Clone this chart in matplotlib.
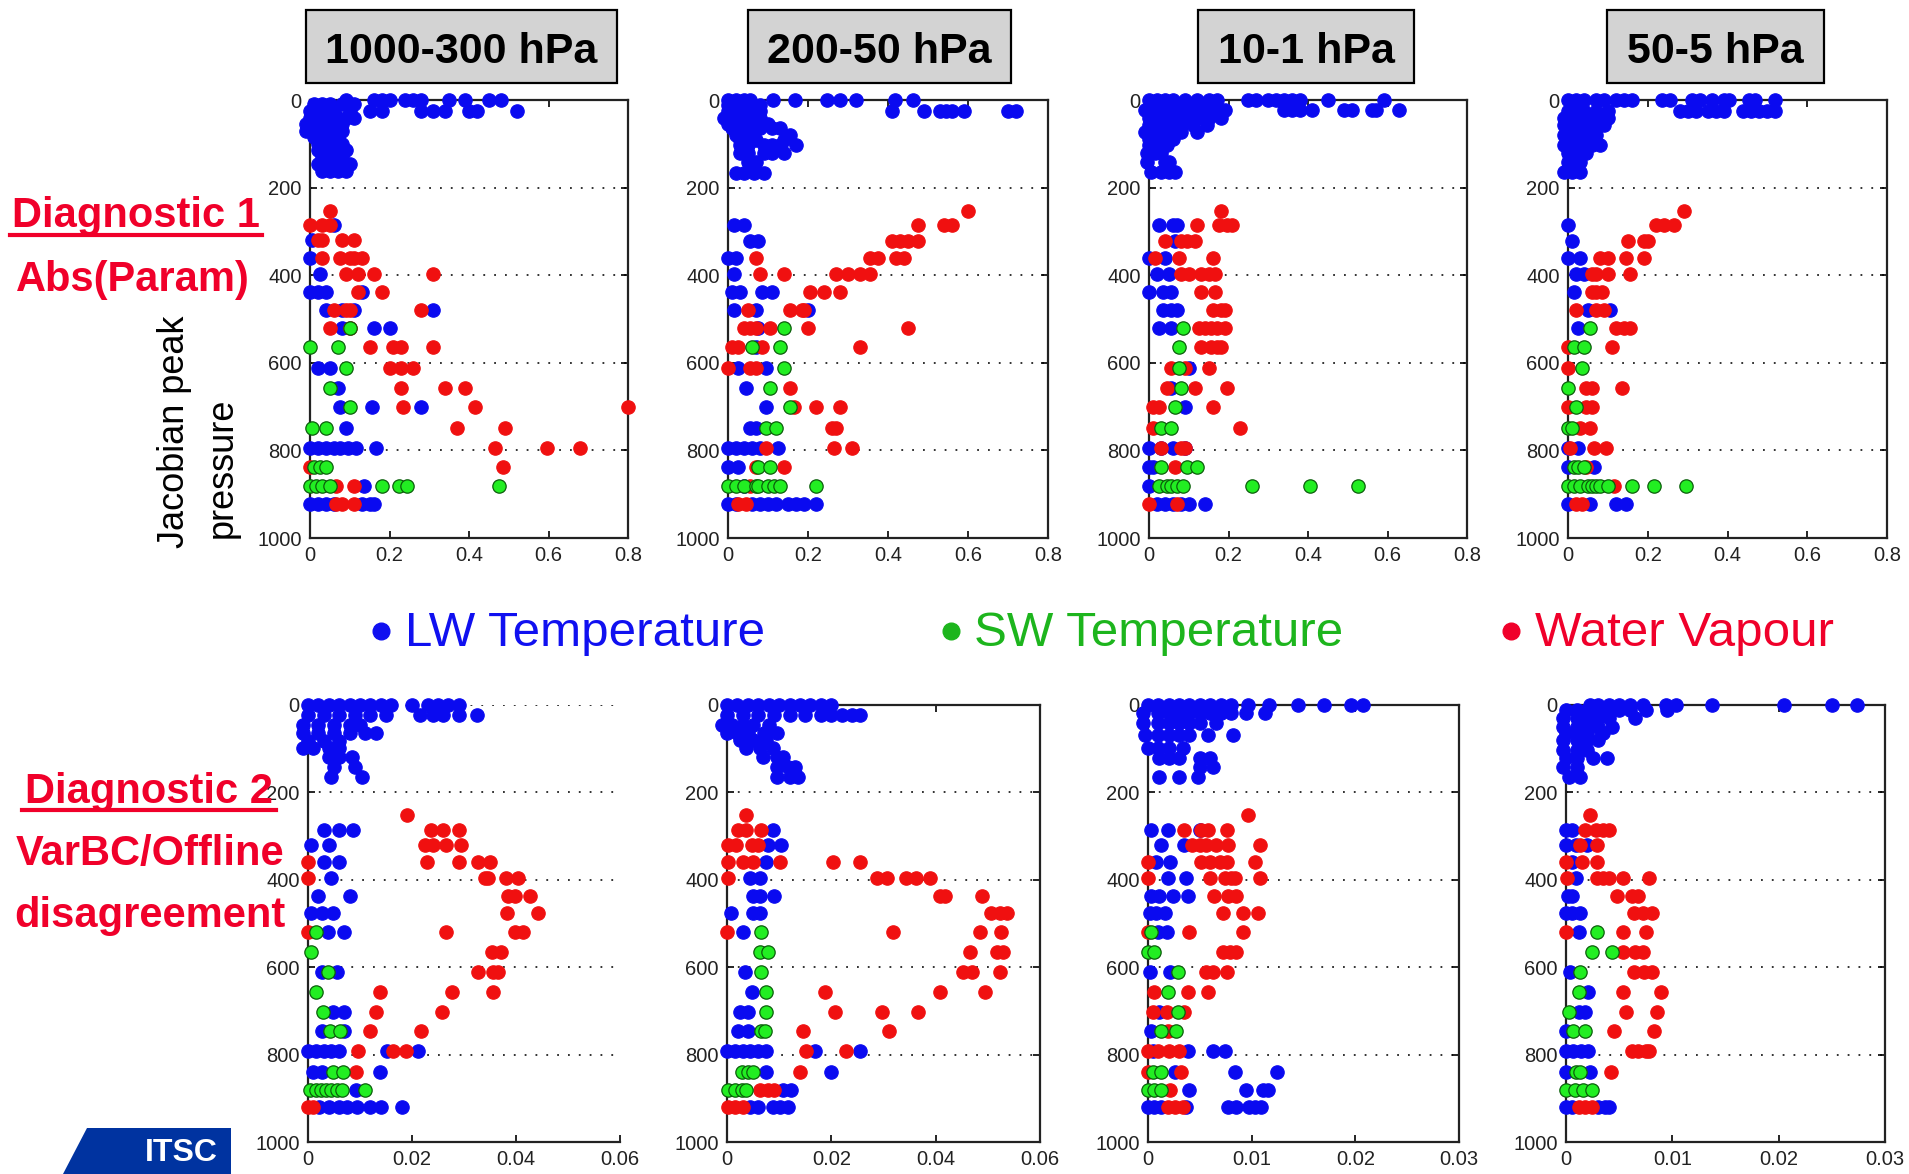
import numpy as np
import matplotlib
matplotlib.use('Agg')
import matplotlib.pyplot as plt
from matplotlib.patches import Rectangle, Polygon
from matplotlib.lines import Line2D

plt.rcParams['font.family'] = ['Liberation Sans', 'DejaVu Sans']

W, H = 1909, 1174

# ---- data: {Jacobian peak pressure (hPa): [values]} per panel / channel group ----
T1_LW = {0: [0.09, 0.16, 0.18, 0.20, 0.24, 0.26, 0.28, 0.35, 0.39, 0.45, 0.48],
         10: [0.01, 0.03, 0.05, 0.08, 0.11],
         25: [0.0, 0.03, 0.06, 0.10, 0.15, 0.18, 0.28, 0.31, 0.34, 0.40, 0.42, 0.52],
         40: [0.0, 0.02, 0.04, 0.07, 0.09, 0.11],
         55: [-0.01, 0.01, 0.03, 0.05, 0.08],
         70: [-0.01, 0.02, 0.04, 0.06, 0.08],
         85: [0.01, 0.03, 0.05, 0.07],
         100: [0.02, 0.04, 0.06, 0.08],
         115: [0.02, 0.04, 0.07, 0.09],
         130: [0.03, 0.05, 0.08],
         145: [0.02, 0.04, 0.07, 0.10],
         163: [0.03, 0.05, 0.07, 0.09],
         285: [0.06], 320: [0.005], 360: [0.0], 398: [0.025],
         438: [0.0, 0.02, 0.04, 0.13],
         479: [0.04, 0.08, 0.11, 0.31],
         520: [0.08, 0.16, 0.20],
         611: [0.02, 0.05], 657: [0.07],
         702: [0.075, 0.155, 0.28], 748: [0.09],
         794: [0.0, 0.02, 0.04, 0.06, 0.075, 0.095, 0.115, 0.165],
         881: [0.135],
         923: [0.0, 0.02, 0.04, 0.06, 0.13, 0.15, 0.16]}
T1_WV = {253: [0.05], 285: [0.0, 0.03, 0.05],
         320: [0.02, 0.03, 0.08, 0.11],
         360: [0.03, 0.075, 0.10, 0.11, 0.13],
         398: [0.09, 0.12, 0.16, 0.31],
         438: [0.12, 0.18], 479: [0.06, 0.09, 0.10, 0.28],
         520: [0.05, 0.10], 565: [0.15, 0.21, 0.23, 0.31],
         611: [0.20, 0.23, 0.26], 657: [0.23, 0.34, 0.39],
         702: [0.235, 0.415, 0.80], 748: [0.37, 0.49],
         794: [0.465, 0.595, 0.68], 839: [0.0, 0.485],
         881: [0.065, 0.11], 923: [0.065, 0.08, 0.11]}
T1_SW = {520: [0.10], 565: [0.0, 0.07], 611: [0.09], 657: [0.05], 702: [0.10],
         748: [0.005, 0.04], 839: [0.01, 0.025, 0.04],
         881: [0.0, 0.015, 0.03, 0.05, 0.18, 0.225, 0.245, 0.475]}

T2_LW = {0: [0.0, 0.02, 0.04, 0.055, 0.113, 0.167, 0.247, 0.28, 0.32, 0.417, 0.463],
         12: [0.0, 0.02, 0.04, 0.06, 0.08],
         25: [0.0, 0.03, 0.06, 0.08, 0.41, 0.49, 0.53, 0.545, 0.56, 0.59, 0.70, 0.72],
         42: [-0.01, 0.01, 0.03, 0.05, 0.07, 0.08],
         55: [0.0, 0.02, 0.04, 0.06, 0.08, 0.10],
         65: [0.01, 0.03, 0.05, 0.08, 0.11, 0.13],
         80: [0.02, 0.04, 0.06, 0.155],
         92: [0.03, 0.05, 0.07, 0.14],
         103: [0.03, 0.05, 0.09, 0.11, 0.13, 0.17],
         122: [0.03, 0.05, 0.09, 0.11, 0.14],
         141: [0.05, 0.07], 167: [0.02, 0.04, 0.065, 0.09],
         285: [0.015, 0.04], 321: [0.055, 0.075], 360: [0.0, 0.02], 398: [0.015],
         438: [0.01, 0.03, 0.085, 0.11], 479: [0.015, 0.07, 0.20],
         520: [0.075], 565: [0.07], 611: [0.025, 0.095], 657: [0.045],
         702: [0.095], 748: [0.055, 0.07],
         794: [0.0, 0.02, 0.04, 0.06, 0.08, 0.125], 839: [0.0, 0.025], 881: [0.04],
         923: [0.0, 0.02, 0.06, 0.08, 0.10, 0.12, 0.15, 0.17, 0.19, 0.22]}
T2_WV = {253: [0.60], 285: [0.475, 0.54, 0.56],
         321: [0.41, 0.43, 0.45, 0.475],
         360: [0.07, 0.355, 0.375, 0.42, 0.44],
         398: [0.08, 0.14, 0.27, 0.30, 0.33, 0.355],
         438: [0.205, 0.24, 0.28], 479: [0.05, 0.155, 0.185, 0.19],
         520: [0.04, 0.055, 0.07, 0.105, 0.20, 0.45],
         565: [0.01, 0.025, 0.085, 0.33], 611: [0.0, 0.055, 0.07],
         657: [0.155], 702: [0.165, 0.22, 0.28], 748: [0.26, 0.27],
         794: [0.095, 0.265, 0.31], 839: [0.07, 0.14], 881: [0.055],
         923: [0.025, 0.045]}
T2_SW = {520: [0.14], 565: [0.06, 0.13], 611: [0.14], 657: [0.105], 702: [0.155],
         748: [0.095, 0.12], 839: [0.075, 0.105],
         881: [0.0, 0.02, 0.04, 0.07, 0.075, 0.10, 0.115, 0.13, 0.22]}

T3_LW = {0: [0.0, 0.02, 0.04, 0.06, 0.09, 0.12, 0.15, 0.17, 0.25, 0.27, 0.30,
             0.32, 0.34, 0.36, 0.38, 0.45, 0.59],
         22: [-0.01, 0.02, 0.04, 0.07, 0.10, 0.13, 0.16, 0.19, 0.34, 0.36, 0.38,
              0.41, 0.49, 0.51, 0.56, 0.57, 0.63],
         41: [0.0, 0.03, 0.06, 0.09, 0.12, 0.15, 0.18],
         57: [0.0, 0.02, 0.05, 0.08, 0.11, 0.145],
         72: [-0.01, 0.02, 0.05, 0.08, 0.12],
         88: [0.0, 0.02, 0.04, 0.06], 103: [0.0, 0.02, 0.045],
         122: [-0.005, 0.015, 0.03], 141: [-0.005, 0.04, 0.05],
         164: [0.005, 0.03, 0.05, 0.065],
         285: [0.025, 0.06, 0.07], 321: [0.065], 360: [0.0, 0.04],
         398: [0.02, 0.05], 438: [0.0, 0.035, 0.055], 479: [0.035, 0.055, 0.07],
         520: [0.025, 0.055], 611: [0.10], 657: [0.055], 702: [0.09],
         794: [0.0, 0.03, 0.06, 0.09], 839: [0.0, 0.01], 881: [0.0],
         923: [0.02, 0.04, 0.06, 0.08, 0.10, 0.14]}
T3_WV = {253: [0.18], 285: [0.12, 0.175, 0.195, 0.21],
         321: [0.04, 0.08, 0.095, 0.115], 360: [0.015, 0.075, 0.16],
         398: [0.08, 0.10, 0.13, 0.15, 0.165], 438: [0.13, 0.165],
         479: [0.16, 0.18, 0.19], 520: [0.125, 0.14, 0.155, 0.17, 0.19],
         565: [0.13, 0.155, 0.17, 0.18], 611: [0.055, 0.09, 0.15],
         657: [0.045, 0.115, 0.195], 702: [0.01, 0.025, 0.16],
         748: [0.01, 0.23], 794: [0.03, 0.08, 0.09], 839: [0.065],
         923: [0.0, 0.07]}
T3_SW = {520: [0.085], 565: [0.075], 611: [0.075], 657: [0.08], 702: [0.065],
         748: [0.03, 0.055], 839: [0.03, 0.095, 0.12],
         881: [0.025, 0.045, 0.055, 0.07, 0.085, 0.26, 0.405, 0.525]}

T4_LW = {0: [0.0, 0.02, 0.04, 0.07, 0.09, 0.12, 0.14, 0.16, 0.235, 0.255, 0.31,
             0.33, 0.36, 0.39, 0.405, 0.455, 0.47, 0.52],
         25: [0.0, 0.02, 0.04, 0.07, 0.10, 0.28, 0.30, 0.32, 0.35, 0.37, 0.39,
              0.44, 0.46, 0.48, 0.50, 0.52],
         41: [-0.01, 0.01, 0.03, 0.06, 0.08, 0.10],
         57: [-0.01, 0.01, 0.03, 0.05, 0.07, 0.09],
         80: [-0.01, 0.01, 0.03, 0.05, 0.07],
         103: [-0.01, 0.02, 0.04, 0.06, 0.08],
         122: [0.0, 0.02, 0.045], 141: [0.0, 0.02, 0.03], 164: [-0.01, 0.01, 0.03],
         285: [0.0], 321: [0.01], 360: [0.0, 0.03], 398: [0.02, 0.04],
         438: [0.015], 479: [0.05, 0.105], 520: [0.025],
         794: [0.0, 0.025], 839: [0.0, 0.065], 923: [0.0, 0.055, 0.12, 0.145]}
T4_WV = {253: [0.29], 285: [0.22, 0.24, 0.265], 321: [0.15, 0.19, 0.20],
         360: [0.08, 0.10, 0.145, 0.19], 398: [0.06, 0.07, 0.10, 0.155],
         438: [0.06, 0.07, 0.085], 479: [0.02, 0.07, 0.09],
         520: [0.12, 0.14, 0.155], 565: [0.0, 0.11], 611: [0.0],
         657: [0.045, 0.06, 0.135], 702: [0.0, 0.045, 0.06], 748: [0.03, 0.055],
         794: [0.005, 0.065, 0.095], 839: [0.045], 881: [0.115], 923: [0.02, 0.035]}
T4_SW = {520: [0.055], 565: [0.015, 0.04], 611: [0.035], 657: [0.0], 702: [0.02],
         748: [0.0, 0.01], 839: [0.015, 0.025, 0.04],
         881: [0.0, 0.015, 0.03, 0.05, 0.06, 0.07, 0.08, 0.10, 0.16, 0.215, 0.295]}

B1_LW = {0: [0.0, 0.002, 0.004, 0.006, 0.008, 0.010, 0.012, 0.014, 0.016, 0.020,
             0.023, 0.025, 0.027, 0.029],
         23: [0.0, 0.003, 0.006, 0.009, 0.012, 0.015, 0.0215, 0.024, 0.026, 0.029, 0.0325],
         45: [-0.001, 0.002, 0.005, 0.008, 0.010],
         65: [-0.001, 0.002, 0.005, 0.008, 0.011, 0.013],
         82: [0.0, 0.003, 0.006], 99: [-0.001, 0.001, 0.004, 0.006],
         118: [0.004, 0.006, 0.0085], 141: [0.005, 0.009], 164: [0.0045, 0.0103],
         286: [0.003, 0.006, 0.0087], 320: [0.0006, 0.004], 359: [0.003, 0.006],
         397: [0.0045], 437: [0.002, 0.008], 477: [0.0006, 0.0026, 0.0048],
         519: [0.0038, 0.007], 610: [0.0026, 0.0055], 702: [0.0048, 0.007],
         746: [0.0026, 0.007],
         792: [0.0, 0.0015, 0.003, 0.0045, 0.006, 0.0151, 0.0212],
         839: [0.001, 0.0026, 0.0138], 881: [0.0093],
         921: [0.0022, 0.004, 0.006, 0.0075, 0.0095, 0.012, 0.014, 0.018]}
B1_WV = {252: [0.019], 286: [0.0237, 0.026, 0.029],
         320: [0.0225, 0.024, 0.0266, 0.0295],
         359: [0.0, 0.0228, 0.029, 0.0327, 0.035],
         397: [0.0, 0.034, 0.0347, 0.038, 0.0404],
         437: [0.0385, 0.0398, 0.0427], 477: [0.0382, 0.0443],
         519: [0.0, 0.0266, 0.0398, 0.0414], 565: [0.0353, 0.0372],
         610: [0.0327, 0.0356, 0.0366], 656: [0.0138, 0.0276, 0.0356],
         702: [0.0131, 0.0257], 746: [0.0119, 0.0218],
         792: [0.0096, 0.0164, 0.0189], 839: [0.0093], 921: [0.0, 0.001]}
B1_SW = {519: [0.0016], 565: [0.0006], 610: [0.0038], 656: [0.0016], 702: [0.0029],
         746: [0.0042, 0.0061], 839: [0.0048, 0.0067],
         881: [0.0003, 0.0015, 0.0025, 0.0035, 0.0045, 0.0055, 0.0065, 0.0109]}

B2_LW = {0: [0.0, 0.002, 0.004, 0.006, 0.008, 0.010, 0.012, 0.014, 0.016, 0.018, 0.020],
         23: [0.0, 0.003, 0.006, 0.009, 0.012, 0.015, 0.018, 0.020, 0.022, 0.024, 0.0255],
         45: [-0.001, 0.001, 0.003, 0.005, 0.008],
         65: [0.0, 0.002, 0.004, 0.007, 0.0095],
         80: [0.0024, 0.005, 0.0075], 99: [0.0037, 0.0063, 0.0088],
         118: [0.0069, 0.0095, 0.0107], 141: [0.0095, 0.0117, 0.013],
         164: [0.0095, 0.012, 0.0136],
         286: [0.0088], 320: [0.0079, 0.0104], 359: [0.0075], 397: [0.0044, 0.0063],
         437: [0.005, 0.0063, 0.0091], 477: [0.0008, 0.005, 0.0063], 519: [0.0031],
         610: [0.0034], 656: [0.0047], 702: [0.0024, 0.004], 746: [0.0021, 0.004],
         792: [0.0, 0.0015, 0.003, 0.0045, 0.006, 0.0075, 0.0168, 0.0255],
         839: [0.0075, 0.020], 881: [0.0107, 0.0123],
         921: [0.0044, 0.006, 0.0088, 0.0101, 0.0117]}
B2_WV = {252: [0.0037], 286: [0.0021, 0.0037, 0.0066],
         320: [0.0002, 0.0018, 0.0047, 0.006],
         359: [0.0002, 0.0031, 0.005, 0.0101, 0.0203, 0.0255],
         397: [0.0002, 0.0287, 0.0306, 0.0344, 0.0363, 0.0389],
         437: [0.0408, 0.0418, 0.0488], 477: [0.0507, 0.0523, 0.0536],
         519: [0.0, 0.0319, 0.0485, 0.0526], 565: [0.0466, 0.0517, 0.053],
         610: [0.0453, 0.0469, 0.0523], 656: [0.0187, 0.0408, 0.0494],
         702: [0.0207, 0.0298, 0.0367], 746: [0.0146, 0.0311],
         792: [0.0152, 0.0229], 839: [0.0139], 881: [0.0063, 0.0079, 0.0091],
         921: [0.0002, 0.0015, 0.0031]}
B2_SW = {519: [0.0066], 565: [0.0063, 0.0079], 610: [0.0066], 656: [0.0075],
         702: [0.0075], 746: [0.0066, 0.0072], 839: [0.0028, 0.004, 0.005],
         881: [0.0002, 0.0015, 0.0028, 0.0037]}

B3_LW = {0: [0.0, 0.001, 0.002, 0.003, 0.004, 0.005, 0.006, 0.007, 0.008, 0.0096,
             0.0117, 0.0145, 0.017, 0.0196, 0.0207],
         19: [-0.0005, 0.001, 0.002, 0.003, 0.004, 0.005, 0.006, 0.007, 0.008,
              0.0095, 0.0113],
         42: [-0.0005, 0.001, 0.002, 0.003, 0.004, 0.005, 0.0066],
         69: [-0.0003, 0.001, 0.002, 0.003, 0.004, 0.0058, 0.0082],
         99: [0.0, 0.001, 0.002, 0.0034], 122: [0.0011, 0.002, 0.003, 0.005, 0.006],
         141: [0.005, 0.0063], 164: [0.0011, 0.003, 0.0048],
         286: [0.0003, 0.0019, 0.005], 320: [0.0013, 0.0035], 359: [0.0008, 0.0021],
         397: [0.0019, 0.0037], 437: [0.0003, 0.0011, 0.0024, 0.0039],
         477: [0.0002, 0.0008, 0.0016], 519: [0.001, 0.0018], 610: [0.0002, 0.0021],
         702: [0.0011], 746: [0.0003], 792: [0.0005, 0.0039, 0.0063, 0.0074],
         839: [0.0026, 0.0084, 0.0124], 881: [0.004, 0.0095, 0.0111, 0.0116],
         921: [0.0, 0.0006, 0.0013, 0.0037, 0.0077, 0.0085, 0.0097, 0.0103, 0.0109]}
B3_WV = {252: [0.0096], 286: [0.0035, 0.0051, 0.0058, 0.0076],
         320: [0.0042, 0.005, 0.0056, 0.0066, 0.0077, 0.0108],
         359: [0.0, 0.0051, 0.006, 0.0069, 0.0076, 0.0103],
         397: [0.0, 0.006, 0.0074, 0.008, 0.0084, 0.0108],
         437: [0.0064, 0.0077, 0.0085], 477: [0.0072, 0.0092, 0.0106],
         519: [0.0, 0.004, 0.0092], 565: [0.0072, 0.0079, 0.0085],
         610: [0.0056, 0.0063, 0.0076], 656: [0.0006, 0.0039, 0.0058],
         702: [0.0005, 0.0018, 0.0035], 746: [0.0019],
         792: [0.0, 0.001, 0.002, 0.003], 839: [0.0, 0.0032], 881: [0.0021],
         921: [0.0019, 0.0026, 0.0034]}
B3_SW = {519: [0.0003], 565: [0.0, 0.0006], 610: [0.0029], 656: [0.0019],
         702: [0.0029], 746: [0.0013, 0.0027], 839: [0.0005, 0.0013],
         881: [0.0, 0.0006, 0.0013]}

B4_LW = {0: [0.0023, 0.003, 0.004, 0.005, 0.006, 0.0072, 0.0094, 0.0103, 0.0137,
             0.0205, 0.025, 0.0274],
         11: [0.0, 0.001, 0.002, 0.003, 0.004, 0.005, 0.006, 0.0075, 0.0095],
         30: [-0.0003, 0.001, 0.002, 0.003, 0.004, 0.0065],
         50: [-0.0003, 0.001, 0.002, 0.003, 0.0043],
         65: [0.0, 0.001, 0.002, 0.0035], 80: [-0.0003, 0.001, 0.002, 0.003],
         103: [-0.0003, 0.001, 0.002], 122: [0.0, 0.001, 0.0025, 0.0039],
         141: [-0.0003, 0.001], 164: [0.0003, 0.0013],
         286: [0.0, 0.0006], 320: [0.0, 0.0009, 0.002], 359: [0.0006], 397: [0.0009],
         437: [0.0002, 0.0006], 477: [0.0, 0.0006, 0.0013], 519: [0.0012],
         610: [0.0004], 656: [0.0021], 702: [0.0012, 0.0018], 746: [0.0],
         792: [0.0, 0.0007, 0.0014, 0.0021], 839: [0.0, 0.0023],
         921: [0.0, 0.0006, 0.003, 0.0037, 0.004]}
B4_WV = {252: [0.0023], 286: [0.0018, 0.0028, 0.0035, 0.004], 320: [0.0013, 0.0029],
         359: [0.0, 0.0015, 0.0029],
         397: [0.0001, 0.0029, 0.0035, 0.004, 0.0054, 0.0078],
         437: [0.0048, 0.0062, 0.0068], 477: [0.0064, 0.0072, 0.0081],
         519: [0.0, 0.0054, 0.0075], 565: [0.0054, 0.0065, 0.0072],
         610: [0.0064, 0.0073, 0.0081], 656: [0.0054, 0.0089], 702: [0.0056, 0.0086],
         746: [0.0045, 0.0083], 792: [0.0062, 0.0068, 0.0075, 0.0078],
         839: [0.0042], 921: [0.0012, 0.0018, 0.0024]}
B4_SW = {519: [0.0029], 565: [0.0024, 0.0043], 610: [0.0013], 656: [0.0012],
         702: [0.0003], 746: [0.0007, 0.0018], 839: [0.0009, 0.0013],
         881: [0.0, 0.0008, 0.0016, 0.0024]}

TITLES = ['1000-300 hPa', '200-50 hPa', '10-1 hPa', '50-5 hPa']
TOP_XLIM = 0.8
BOT_XLIM = [0.06, 0.06, 0.03, 0.03]
TOP_XTICKS = [0, 0.2, 0.4, 0.6, 0.8]
TOP_XLABELS = ['0', '0.2', '0.4', '0.6', '0.8']
BOT_XTICKS = [[0, 0.02, 0.04, 0.06], [0, 0.02, 0.04, 0.06],
              [0, 0.01, 0.02, 0.03], [0, 0.01, 0.02, 0.03]]
BOT_XLABELS = [['0', '0.02', '0.04', '0.06'], ['0', '0.02', '0.04', '0.06'],
               ['0', '0.01', '0.02', '0.03'], ['0', '0.01', '0.02', '0.03']]
YTICKS = [0, 200, 400, 600, 800, 1000]
LEGEND = ['LW Temperature', 'SW Temperature', 'Water Vapour']

TOP_DATA = [(T1_LW, T1_WV, T1_SW), (T2_LW, T2_WV, T2_SW),
            (T3_LW, T3_WV, T3_SW), (T4_LW, T4_WV, T4_SW)]
BOT_DATA = [(B1_LW, B1_WV, B1_SW), (B2_LW, B2_WV, B2_SW),
            (B3_LW, B3_WV, B3_SW), (B4_LW, B4_WV, B4_SW)]

BLUE = '#0a0af0'
RED = '#f01010'
GREEN = '#22ee22'
LABEL_RED = '#f0002a'

# axes placement in pixels (left, top, right, bottom)
TOP_BOXES = [(310, 100, 628, 538), (728, 100, 1048, 538),
             (1149, 100, 1467, 538), (1568, 100, 1887, 538)]
BOT_BOXES = [(308, 705, 620, 1142), (727, 705, 1040, 1142),
             (1148, 705, 1459, 1142), (1566, 705, 1885, 1142)]
TITLE_BOXES = [(306, 617), (748, 1011), (1198, 1414), (1607, 1824)]


def flatten(d):
    p, x = [], []
    for k, vals in d.items():
        for v in vals:
            p.append(k)
            x.append(v)
    return np.array(x), np.array(p)


def fx(x):
    return x / W


def fy(y):
    return 1 - y / H


def make_axes(fig, box, data, xmax, xticks, xlabels, open_box=False):
    l, t, r, b = box
    ax = fig.add_axes([fx(l), fy(b), (r - l) / W, (b - t) / H])
    lw, wv, sw = data
    for d, c, ec in [(lw, BLUE, BLUE), (wv, RED, RED), (sw, GREEN, '#0b5e0b')]:
        x, p = flatten(d)
        ax.scatter(x, p, s=92, c=c, edgecolors=ec, linewidths=0.9,
                   clip_on=False, zorder=3)
    ax.set_xlim(0, xmax)
    ax.set_ylim(1000, 0)
    ax.set_xticks(xticks)
    ax.set_xticklabels(xlabels)
    ax.set_yticks(YTICKS)
    ax.set_yticklabels([str(v) for v in YTICKS])
    ax.yaxis.grid(True, linestyle=(0, (1, 5)), color='#222222', linewidth=1.3)
    ax.set_axisbelow(True)
    ax.tick_params(direction='in', length=5, width=1.2, labelsize=14.5,
                   labelcolor='#222222', pad=6, top=not open_box, right=not open_box)
    for s in ax.spines.values():
        s.set_linewidth(1.6)
        s.set_color('#222222')
    if open_box:
        ax.spines['top'].set_visible(False)
        ax.spines['right'].set_visible(False)
    return ax


fig = plt.figure(figsize=(W / 100, H / 100), dpi=100)

for i in range(4):
    make_axes(fig, TOP_BOXES[i], TOP_DATA[i], TOP_XLIM, TOP_XTICKS, TOP_XLABELS)
    make_axes(fig, BOT_BOXES[i], BOT_DATA[i], BOT_XLIM[i], BOT_XTICKS[i],
              BOT_XLABELS[i], open_box=(i == 0))

# title boxes
for (l, r), title in zip(TITLE_BOXES, TITLES):
    fig.add_artist(Rectangle((fx(l), fy(83)), (r - l) / W, 73 / H,
                             transform=fig.transFigure, facecolor='#d3d3d3',
                             edgecolor='black', linewidth=1.6))
    fig.text(fx((l + r) / 2), fy(52), title, ha='center', va='center',
             fontsize=31, fontweight='bold', color='black')

# legend row
for xb, xt, label, c in [(381, 405, LEGEND[0], '#1010f0'),
                         (951, 974, LEGEND[1], '#1db51d'),
                         (1511, 1535, LEGEND[2], LABEL_RED)]:
    fig.add_artist(Line2D([fx(xb)], [fy(631)], marker='o', markersize=12,
                          color=c, transform=fig.transFigure))
    fig.text(fx(xt), fy(634), label, ha='left', va='center', fontsize=35.5, color=c)

# left-side labels
fig.text(fx(136), fy(216), 'Diagnostic 1', ha='center', va='center',
         fontsize=30, fontweight='bold', color=LABEL_RED)
fig.add_artist(Line2D([fx(10), fx(262)], [fy(235), fy(235)], color=LABEL_RED,
                      linewidth=3, transform=fig.transFigure))
fig.text(fx(133), fy(280), 'Abs(Param)', ha='center', va='center',
         fontsize=30, fontweight='bold', color=LABEL_RED)
fig.text(fx(175), fy(548), 'Jacobian peak', ha='center', va='bottom',
         rotation=90, fontsize=26, color='black')
fig.text(fx(222), fy(538), 'pressure', ha='center', va='bottom',
         rotation=90, fontsize=26, color='black')

fig.text(fx(149), fy(792), 'Diagnostic 2', ha='center', va='center',
         fontsize=30, fontweight='bold', color=LABEL_RED)
fig.add_artist(Line2D([fx(22), fx(276)], [fy(810), fy(810)], color=LABEL_RED,
                      linewidth=3, transform=fig.transFigure))
fig.text(fx(150), fy(854), 'VarBC/Offline', ha='center', va='center',
         fontsize=30, fontweight='bold', color=LABEL_RED)
fig.text(fx(150), fy(916), 'disagreement', ha='center', va='center',
         fontsize=30, fontweight='bold', color=LABEL_RED)

# ITSC tab in the corner
fig.add_artist(Polygon([(fx(63), fy(1174)), (fx(87), fy(1128)), (fx(231), fy(1128)),
                        (fx(231), fy(1174))], closed=True, facecolor='#0033a0',
                       edgecolor='none', transform=fig.transFigure))
fig.text(fx(181), fy(1153), 'ITSC', ha='center', va='center', fontsize=23,
         fontweight='bold', color='white')

fig.savefig('out.png', dpi=100, facecolor='white')
